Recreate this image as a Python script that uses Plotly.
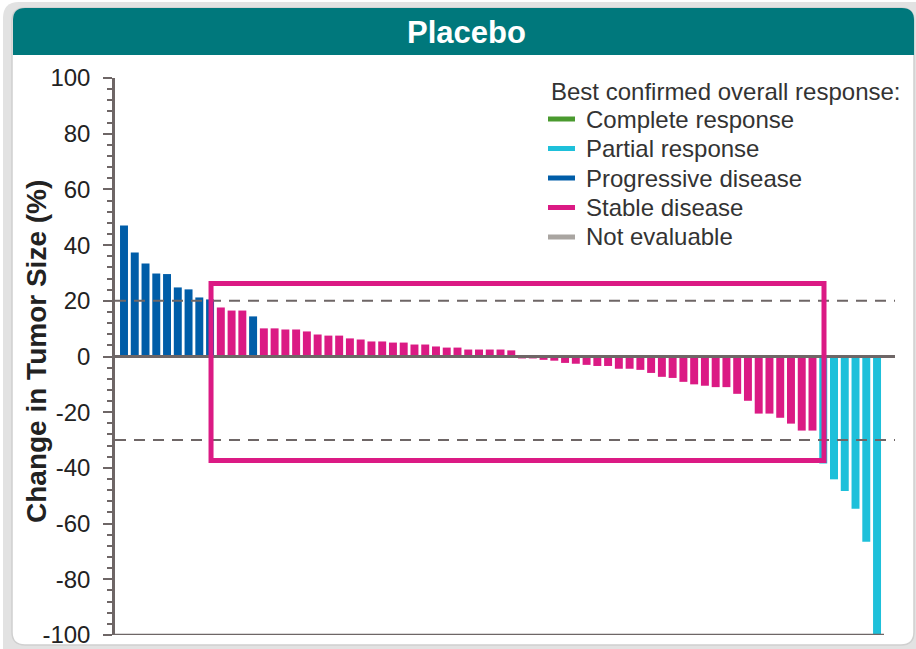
import plotly.graph_objects as go

# ---------------- data ----------------
change_pct = [
    47.0, 37.3, 33.4, 29.8, 29.6, 24.8, 24.1, 21.2, 20.5, 17.6,
    16.5, 16.5, 14.4, 10.1, 10.1, 9.7, 9.7, 9.0, 7.9, 7.5,
    7.5, 6.5, 6.1, 5.4, 5.4, 5.0, 5.0, 4.3, 4.3, 3.6,
    3.2, 3.2, 2.5, 2.5, 2.5, 2.5, 2.2, -0.7, -0.7, -1.2,
    -1.5, -2.3, -2.6, -3.0, -3.4, -3.4, -4.4, -4.4, -4.8, -5.9,
    -7.3, -7.7, -9.1, -10.0, -10.5, -11.0, -11.0, -13.4, -15.9, -20.5,
    -20.5, -22.0, -24.1, -26.6, -26.6, -38.4, -44.1, -48.3, -54.7, -66.5,
    -100.0,
]
response = (["PD"] * 9 + ["SD"] * 3 + ["PD"] + ["SD"] * 52 + ["PR"] * 6)

categories = ["CR", "PR", "PD", "SD", "NE"]
category_labels = ["Complete response", "Partial response", "Progressive disease",
                   "Stable disease", "Not evaluable"]
category_colors = ["#4A9A2F", "#1EC0DA", "#005DA8", "#DB1A84", "#A9A5A1"]

y_ticks = [100, 80, 60, 40, 20, 0, -20, -40, -60, -80, -100]
y_tick_text = ["100", "80", "60", "40", "20", "0", "-20", "-40", "-60", "-80", "-100"]
reference_lines = [20, -30]
box_first, box_last = 8, 65   # bars spanned by highlight box
box_top, box_bottom = 26.2, -37.3

title_text = "Placebo"
y_title = "Change in Tumor Size (%)"
legend_title = "Best confirmed overall response:"

# ---------------- layout helpers ----------------
W, H = 916, 649
L, R, T, B = 115, 21, 78, 14
PW, PH = W - L - R, H - T - B


def px_x(p):
    return (p - L) / PW


def px_y(p):
    return (H - B - p) / PH


def rounded_path(x0, y0, x1, y1, r, top_only=False):
    def P(x, y):
        return f"{px_x(x):.5f},{px_y(y):.5f}"
    if top_only:
        return (f"M {P(x0, y1)} L {P(x0, y0 + r)} Q {P(x0, y0)} {P(x0 + r, y0)} "
                f"L {P(x1 - r, y0)} Q {P(x1, y0)} {P(x1, y0 + r)} L {P(x1, y1)} Z")
    return (f"M {P(x0, y0 + r)} Q {P(x0, y0)} {P(x0 + r, y0)} L {P(x1 - r, y0)} "
            f"Q {P(x1, y0)} {P(x1, y0 + r)} L {P(x1, y1 - r)} Q {P(x1, y1)} {P(x1 - r, y1)} "
            f"L {P(x0 + r, y1)} Q {P(x0, y1)} {P(x0, y1 - r)} Z")


FONT = "Liberation Sans, Arial, Helvetica, sans-serif"
AXIS_COLOR = "#6E6666"
TEXT_COLOR = "#222222"

fig = go.Figure()

x_idx = list(range(len(change_pct)))
for cat, lab, col in zip(categories, category_labels, category_colors):
    xs = [i for i in x_idx if response[i] == cat]
    ys = [change_pct[i] for i in xs]
    if xs:
        fig.add_trace(go.Bar(x=xs, y=ys, name=lab, marker=dict(color=col, line=dict(width=0)),
                             width=0.74, showlegend=False, hoverinfo="y"))

shapes = []
# card shadow + card
shapes.append(dict(type="path", xref="paper", yref="paper",
                   path=rounded_path(3, 2, 930, 665, 16),
                   fillcolor="#E2E2E2", line=dict(width=0), layer="below"))
shapes.append(dict(type="path", xref="paper", yref="paper",
                   path=rounded_path(12, 8, 914, 645, 13),
                   fillcolor="white", line=dict(color="#D0D0D0", width=1.5), layer="below"))
# header banner
shapes.append(dict(type="path", xref="paper", yref="paper",
                   path=rounded_path(13, 8, 914, 55, 12, top_only=True),
                   fillcolor="#00787C", line=dict(width=0), layer="below"))
# reference dashed lines
for yv in reference_lines:
    shapes.append(dict(type="line", xref="paper", yref="y", x0=0, x1=1, y0=yv, y1=yv,
                       line=dict(color=AXIS_COLOR, width=2, dash="11px,8px"), layer="above"))
# zero line
shapes.append(dict(type="line", xref="paper", yref="y", x0=0, x1=1, y0=0, y1=0,
                   line=dict(color=AXIS_COLOR, width=3), layer="above"))
# bottom axis line
shapes.append(dict(type="line", xref="paper", yref="y", x0=0, x1=px_x(884), y0=-100, y1=-100,
                   line=dict(color=AXIS_COLOR, width=2.5), layer="above"))
# highlight box
shapes.append(dict(type="rect", xref="x", yref="y",
                   x0=box_first + 0.09, x1=box_last + 0.07, y0=box_bottom, y1=box_top,
                   line=dict(color="#DB1A84", width=5), fillcolor="rgba(0,0,0,0)",
                   layer="above"))

annotations = [
    dict(text=f"<b>{title_text}</b>", xref="paper", yref="paper",
         x=px_x(466), y=px_y(32), xanchor="center", yanchor="middle", showarrow=False,
         font=dict(family=FONT, size=31, color="white")),
    dict(text=f"<b>{y_title}</b>", xref="paper", yref="paper",
         x=px_x(36), y=px_y(352), xanchor="center", yanchor="middle",
         showarrow=False, textangle=-90,
         font=dict(family=FONT, size=28, color=TEXT_COLOR)),
    dict(text=legend_title, xref="paper", yref="paper",
         x=px_x(549), y=px_y(91), xanchor="left", yanchor="middle", showarrow=False,
         font=dict(family=FONT, size=24, color="#333333")),
]

# manual legend
legend_y = [119, 148.5, 178, 207.5, 237]
for lab, col, ly in zip(category_labels, category_colors, legend_y):
    shapes.append(dict(type="line", xref="paper", yref="paper",
                       x0=px_x(548), x1=px_x(575), y0=px_y(ly), y1=px_y(ly),
                       line=dict(color=col, width=5), layer="above"))
    annotations.append(dict(text=lab, xref="paper", yref="paper",
                            x=px_x(584), y=px_y(ly), xanchor="left", yanchor="middle",
                            showarrow=False,
                            font=dict(family=FONT, size=24, color="#333333")))

fig.update_layout(
    width=W, height=H,
    margin=dict(l=L, r=R, t=T, b=B, pad=0),
    paper_bgcolor="white", plot_bgcolor="rgba(0,0,0,0)",
    font=dict(family=FONT, color=TEXT_COLOR),
    barmode="overlay",
    shapes=shapes,
    annotations=annotations,
    showlegend=False,
    xaxis=dict(range=[-0.837, 71.67], visible=False, fixedrange=True),
    yaxis=dict(range=[-100, 100], tickvals=y_ticks, ticktext=y_tick_text,
               ticks="outside", ticklen=9,
               tickwidth=2, tickcolor=AXIS_COLOR, showline=True, linewidth=2.5,
               linecolor=AXIS_COLOR, showgrid=False, zeroline=False,
               ticklabelstandoff=8,
               tickfont=dict(family=FONT, size=24, color=TEXT_COLOR),
               minor=dict(dtick=4, ticks="outside", ticklen=5, tickwidth=2,
                          tickcolor=AXIS_COLOR, showgrid=False),
               automargin=False, layer="above traces"),
)

fig.write_html(
    "out.html",
    config={"displayModeBar": False},
    post_script="document.body.style.margin='0';document.body.style.padding='0';"
                "document.body.style.overflow='hidden';",
)
